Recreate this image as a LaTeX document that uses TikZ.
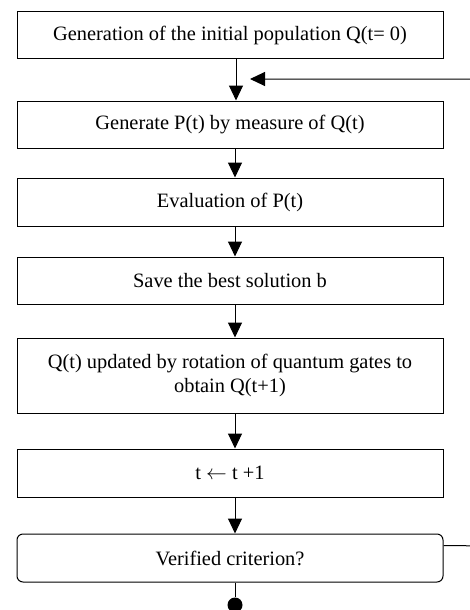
\documentclass[tikz,border=0pt]{standalone}
\usepackage{fontspec}
\setmainfont{Liberation Serif}
\usetikzlibrary{arrows.meta}
\tikzset{
  caja/.style={draw, line width=1pt, minimum width=426pt, minimum height=47pt,
    inner sep=0pt, align=center, font=\fontsize{20.4}{24}\selectfont},
  flecha/.style={line width=1pt, -{Triangle[length=15pt,width=14pt]}}
}
\begin{document}
\begin{tikzpicture}[x=1pt,y=-1pt]
    \useasboundingbox (0,0) rectangle (470,610);
    \clip (0,0) rectangle (470,610);
    % Pasos del algoritmo
    \node[caja] (init) at (230,35.5) {Generation of the initial population Q(t= 0)};
    \node[caja] (measure) at (230,124.5) {Generate P(t) by measure of Q(t)};
    \node[caja, minimum height=48pt] (eval) at (230,202) {Evaluation of P(t)};
    \node[caja] (save) at (230,280.5) {Save the best solution b};
    \node[caja, minimum height=75pt] (update) at (230,375.5) {Q(t) updated by rotation of quantum gates to\\obtain Q(t+1)};
    \node[caja, minimum height=48pt] (incr) at (230,473) {t $\leftarrow$ t +1};
    \node[caja, minimum height=48pt, rounded corners=6pt] (verify) at (230,558) {Verified criterion?};
    \node[circle, fill, inner sep=0pt, minimum size=15pt] (fin) at (235,605) {}; % Fin
    % Flechas entre pasos
    \draw[flecha] ([xshift=6pt]init.south) -- ([xshift=6pt]measure.north);
    \draw[flecha] ([xshift=5pt]measure.south) -- ([xshift=5pt]eval.north);
    \draw[flecha] ([xshift=5pt]eval.south) -- ([xshift=5pt]save.north);
    \draw[flecha] ([xshift=5pt]save.south) -- ([xshift=5pt]update.north);
    \draw[flecha] ([xshift=5pt]update.south) -- ([xshift=5pt]incr.north);
    \draw[flecha] ([xshift=5pt]incr.south) -- ([xshift=5pt]verify.north);
    \draw[line width=1pt] ([xshift=5pt]verify.south) -- (fin);
    % Vuelta del bucle
    \coordinate (vuelta) at (490,546);
    \coordinate (entrada) at (250,79);
    \draw[flecha] ([yshift=-12pt]verify.north east) -- (vuelta) |- (entrada);
\end{tikzpicture}
\end{document}
